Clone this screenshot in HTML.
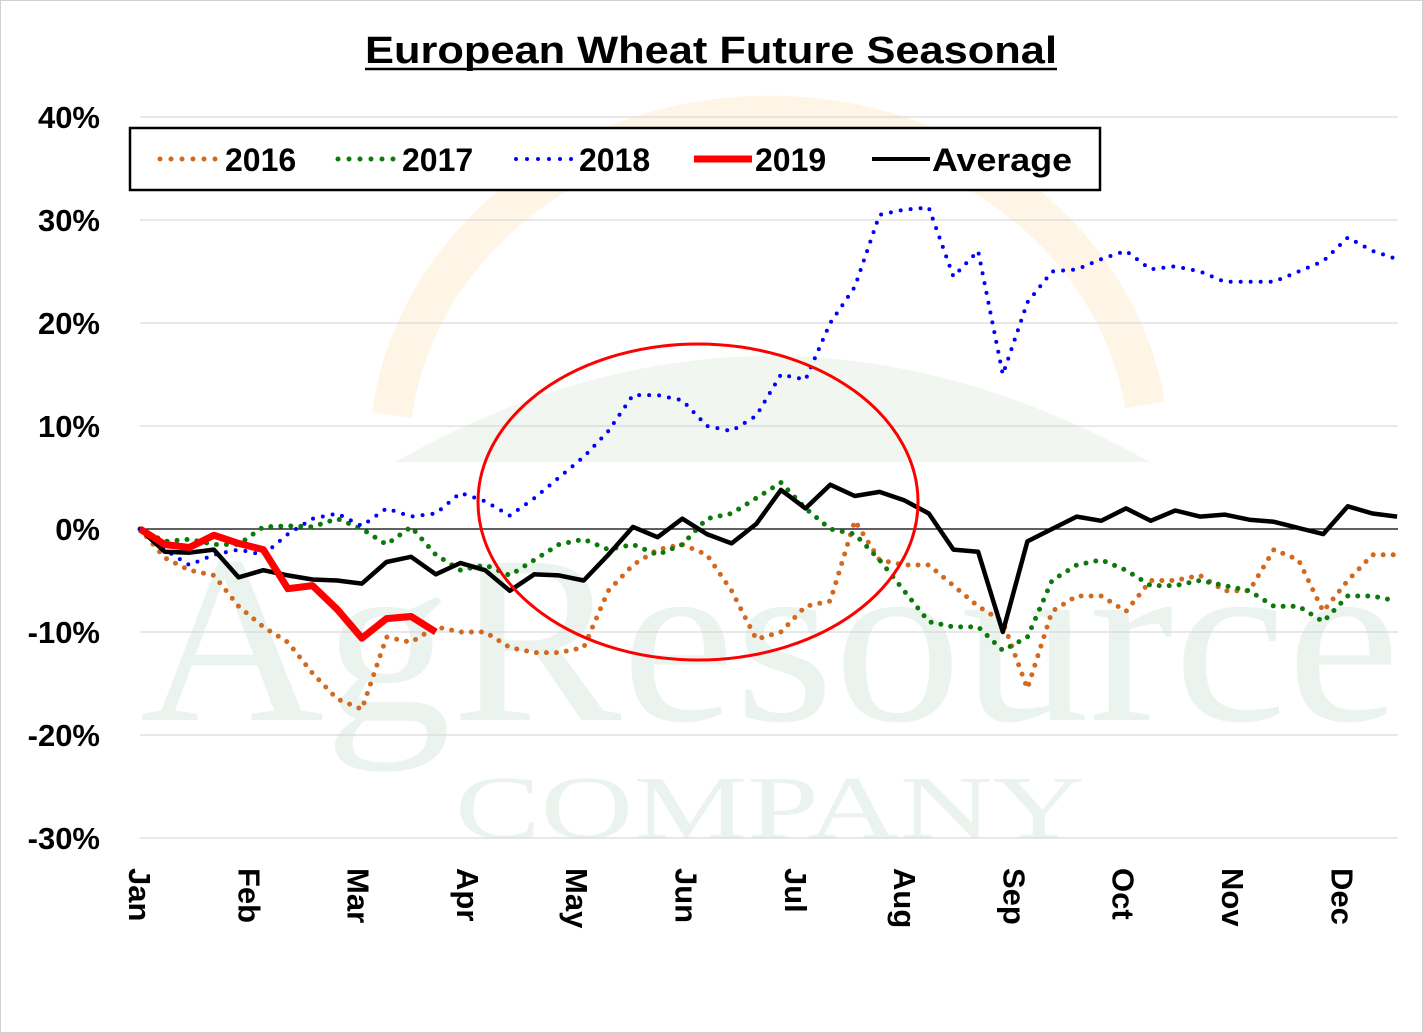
<!DOCTYPE html>
<html><head><meta charset="utf-8"><style>
body{margin:0;background:#fff;}
svg{display:block;font-family:"Liberation Sans",Arial,sans-serif;}
</style></head><body>
<svg id="chart" width="1423" height="1033" viewBox="0 0 1423 1033">
<rect x="0.5" y="0.5" width="1422" height="1032" fill="#fff" stroke="#d0d0d0"/>
<g opacity="0.5">
<path d="M392,415 A380,340 0 0 1 1145,405" fill="none" stroke="#fbe3b8" stroke-width="40" opacity="0.7"/>
<path d="M395,462 Q770,250 1150,462 Z" fill="#dcebd9" opacity="0.8"/>
<text x="140" y="720" textLength="1260" lengthAdjust="spacingAndGlyphs" font-family="Liberation Serif,serif" font-size="240" fill="#d6e6dc">AgResource</text>
<text x="455" y="838" textLength="630" lengthAdjust="spacingAndGlyphs" font-family="Liberation Serif,serif" font-size="90" fill="#d6e6dc">COMPANY</text>
</g>
<g id="grid"></g>
<g id="yticks"></g>
<g id="xticks"></g>
<g id="series"></g>
<ellipse cx="698" cy="502" rx="220" ry="158" fill="none" stroke="#ff0000" stroke-width="3"/>
<text x="365" y="63" textLength="692" lengthAdjust="spacingAndGlyphs" font-size="38" font-weight="bold" fill="#000">European Wheat Future Seasonal</text>
<line x1="365" y1="69" x2="1057" y2="69" stroke="#000" stroke-width="2.5"/>
<g>
<rect x="130" y="128" width="970" height="62" fill="#fff" stroke="#000" stroke-width="2.5"/>
<g><line x1="160" y1="159" x2="218" y2="159" stroke="#d2691e" stroke-width="5" stroke-dasharray="0 11" stroke-linecap="round"/><text x="225" y="171" font-size="32" font-weight="bold">2016</text></g>
<g><line x1="338" y1="159" x2="396" y2="159" stroke="#0a7a0a" stroke-width="5" stroke-dasharray="0 11" stroke-linecap="round"/><text x="402" y="171" font-size="32" font-weight="bold">2017</text></g>
<g><line x1="516" y1="159" x2="572" y2="159" stroke="#0000ff" stroke-width="4" stroke-dasharray="0 11" stroke-linecap="round"/><text x="579" y="171" font-size="32" font-weight="bold">2018</text></g>
<g><line x1="694" y1="159" x2="752" y2="159" stroke="#ff0000" stroke-width="7"/><text x="755" y="171" font-size="32" font-weight="bold">2019</text></g>
<g><line x1="872" y1="159" x2="930" y2="159" stroke="#000" stroke-width="4"/><text x="932" y="171" textLength="140" lengthAdjust="spacingAndGlyphs" font-size="32" font-weight="bold">Average</text></g>
</g>
</svg>
<script>
const months=["Jan","Feb","Mar","Apr","May","Jun","Jul","Aug","Sep","Oct","Nov","Dec"];
const yTicks=[40,30,20,10,0,-10,-20,-30];
const s2016=[0,-2.8,-4,-4.5,-7.5,-9.5,-11,-14,-16.5,-17.5,-10.5,-11,-9.5,-10,-10,-11.5,-12,-12,-11.5,-6,-3.5,-2,-1.5,-2.5,-6,-10.7,-10,-7.5,-7,0.8,-3,-3.5,-3.5,-5.5,-7.5,-9,-15.5,-8,-6.5,-6.5,-8,-5,-5,-4.5,-6,-6,-2,-3,-8,-5,-2.5,-2.5];
const s2017=[0,-1.2,-1,-1.5,-1.5,0.2,0.3,0.2,1,0,-1.5,0.2,-2.5,-4,-3.5,-4.5,-3,-1.5,-1,-2,-1.5,-2.5,-1.5,1,1.5,3,4.5,2,0,-0.5,-3,-6,-9,-9.5,-9.5,-11.8,-10.5,-5,-3.5,-3,-4,-5.5,-5.5,-5,-5.5,-6,-7.5,-7.5,-9,-6.5,-6.5,-7];
const s2018=[0,-2,-3.5,-2.5,-2,-2.5,-0.5,1,1.5,0.3,2,1.2,1.5,3.5,2.7,1.3,3,5,7,9.5,13,13,12.5,10,9.5,11,15,14.5,20,23.5,30.5,31,31.2,24.5,27,15,22,25,25.2,26.2,27,25.2,25.5,25,24,24,24,25,26,28.3,27,26.2];
const s2019=[0,-1.5,-1.8,-0.6,-1.4,-2,-5.8,-5.5,-7.8,-10.6,-8.7,-8.5,-10];
const sAvg=[0,-2.2,-2.3,-2,-4.7,-4,-4.5,-4.9,-5,-5.3,-3.2,-2.7,-4.4,-3.3,-4,-6,-4.4,-4.5,-5,-2.5,0.2,-0.8,1,-0.5,-1.4,0.5,3.8,2,4.3,3.2,3.6,2.8,1.5,-2,-2.2,-10,-1.2,0,1.2,0.8,2,0.8,1.8,1.2,1.4,0.9,0.7,0.1,-0.5,2.2,1.5,1.2];
const NS="http://www.w3.org/2000/svg";
const X0=140,X1=1398,DX=24.65;
function xw(i){return X0+i*DX;}
function xm(i){return X0+i*109.3;}
function y(v){return 529-v*10.3;}
function mk(t,a,p){const e=document.createElementNS(NS,t);for(const k in a)e.setAttribute(k,a[k]);p.appendChild(e);return e;}
const grid=document.getElementById('grid'),yt=document.getElementById('yticks'),xt=document.getElementById('xticks'),ser=document.getElementById('series');
yTicks.forEach(v=>{
 const l=mk('line',{x1:X0,x2:X1,y1:y(v),y2:y(v),stroke:v===0?'#000':'#d9d9d9','stroke-width':1.3},grid);
 
 
 const t=mk('text',{x:100,y:y(v)+11,'text-anchor':'end','font-size':31,'font-weight':'bold'},yt);
 t.textContent=v+'%';
 
 
});
months.forEach((m,i)=>{
 const x=xm(i);
 const t=mk('text',{x:0,y:0,'font-size':31,'font-weight':'bold',transform:`translate(${x-11},868) rotate(90)`},xt);
 t.textContent=m;
 
 
});
function line(data,attrs,name){
 const pts=data.map((v,i)=>xw(i).toFixed(1)+','+y(v).toFixed(1)).join(' ');
 const p=mk('polyline',Object.assign({points:pts,fill:'none','stroke-linejoin':'round'},attrs),ser);
 
 
}
line(s2016,{stroke:'#d2691e','stroke-width':5,'stroke-dasharray':'0 10','stroke-linecap':'round'},'series-2016');
line(s2017,{stroke:'#0a7a0a','stroke-width':5,'stroke-dasharray':'0 10','stroke-linecap':'round'},'series-2017');
line(s2018,{stroke:'#0000ff','stroke-width':4,'stroke-dasharray':'0 10','stroke-linecap':'round'},'series-2018');
line(sAvg,{stroke:'#000','stroke-width':4.5},'series-average');
line(s2019,{stroke:'#ff0000','stroke-width':7},'series-2019');
</script>
</body></html>
